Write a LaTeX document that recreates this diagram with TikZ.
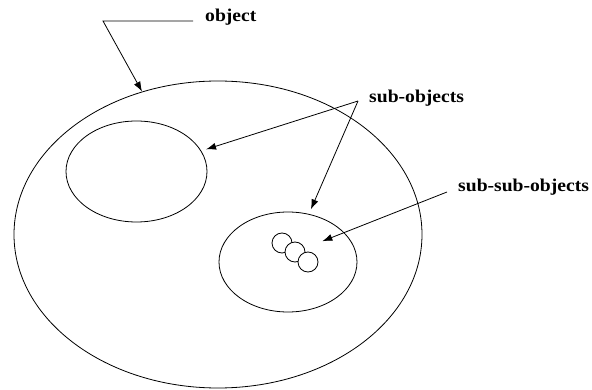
\documentclass[tikz,border=0pt]{standalone}
\usepackage{fontspec}
\setmainfont{Liberation Serif}
\usepackage{tikz}
\usetikzlibrary{shapes.geometric, arrows.meta, positioning, calc}
\tikzset{
  blob/.style={draw, ellipse, inner sep=0pt, line width=0.8pt},
  dot/.style={draw, fill=white, circle, minimum size=20pt, inner sep=0pt, line width=0.8pt},
  lbl/.style={font=\fontsize{18}{20}\selectfont\bfseries, inner sep=0pt, xscale=1.09},
  pointer/.style={line width=0.8pt, -{Latex[length=10pt,width=7pt]}}
}

\begin{document}
\begin{tikzpicture}[x=1pt,y=-1pt]
  \useasboundingbox (0,0) rectangle (592,390);

  % Object and its sub-objects
  \node[blob, minimum width=408pt, minimum height=307pt] (obj) at (218,234.5) {};
  \node[blob, minimum width=141pt, minimum height=101pt] (subA) at (136.5,171.5) {};
  \node[blob, minimum width=138pt, minimum height=100pt] (subB) at (288,262) {};

  % Sub-sub-objects
  \node[dot] (ssA) at (282,243) {};
  \node[dot] (ssB) at (295,252) {};
  \node[dot] (ssC) at (308,262) {};

  % Labels
  \node[lbl, anchor=base west] (objlbl) at (205,22) {object};
  \node[lbl, anchor=base west] (sublbl) at (369,103) {sub-objects};
  \node[lbl, anchor=base west] (subsublbl) at (458,192) {sub-sub-objects};

  % Leader lines
  \coordinate (objend) at ($(objlbl.base west)+(-12pt,1pt)$);
  \coordinate (bend) at (103,21);
  \draw[pointer] (objend) -- (bend) -- (obj.118);

  \coordinate (fork) at ($(sublbl.base west)+(-11pt,2pt)$);
  \draw[pointer, shorten >=5pt] (fork) -- (subA);
  \draw[pointer, shorten >=5pt] (fork) -- (subB);

  \coordinate (ssstart) at ($(subsublbl.base west)+(-11pt,0pt)$);
  \draw[pointer, shorten >=19pt] (ssstart) -- (ssB);
\end{tikzpicture}
\end{document}
